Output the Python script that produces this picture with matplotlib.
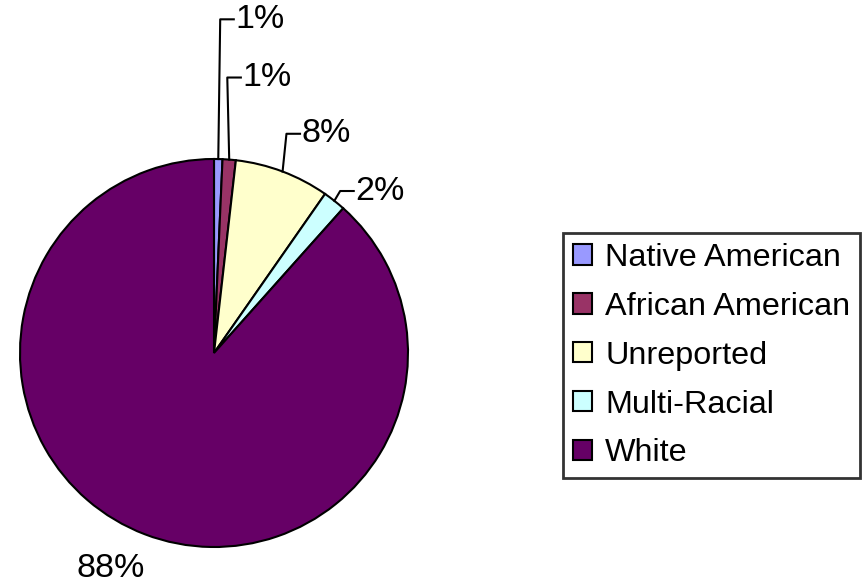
import matplotlib.pyplot as plt
import numpy as np

plt.rcParams['font.family'] = ['Liberation Sans', 'DejaVu Sans']

categories = ["Native American", "African American", "Unreported", "Multi-Racial", "White"]
shares = [0.7, 1.1, 7.9, 1.9, 88.4]
pct_labels = ["1%", "1%", "8%", "2%", "88%"]
colors = ["#9999FF", "#993366", "#FFFFCC", "#CCFFFF", "#660066"]

# where the small-slice labels sit (data units, pie radius = 1)
label_y = [1.72, 1.42, 1.13, 0.835]
elbow_dx = [0.01, -0.01, 0.02, 0.03]

fig = plt.figure(figsize=(8.66, 5.85), dpi=100)
ax = fig.add_axes([20 / 866, 38 / 585, 388 / 866, 388 / 585])

wedges, _ = ax.pie(shares, colors=colors, startangle=90, counterclock=False,
                   radius=1, wedgeprops=dict(edgecolor="black", linewidth=1.5))
ax.set_xlim(-1, 1)
ax.set_ylim(-1, 1)
ax.set_aspect("equal")
ax.axis("off")

for i, w in enumerate(wedges[:4]):
    mid = np.deg2rad((w.theta1 + w.theta2) / 2)
    ex, ey = np.cos(mid), np.sin(mid)
    bx = ex + elbow_dx[i]
    ly = label_y[i]
    ax.plot([ex, bx, bx + 0.07], [ey, ly, ly], color="black", lw=1.5, clip_on=False)
    ax.text(bx + 0.08, ly, pct_labels[i], fontsize=24.5, ha="left", va="center", clip_on=False)

# big slice label
ax.text(-0.53, -1.11, pct_labels[4], fontsize=24.5, ha="center", va="center", clip_on=False)

leg = ax.legend(wedges, categories, loc="upper left",
                bbox_to_anchor=(563 / 866, 1 - 233 / 585), bbox_transform=fig.transFigure,
                fontsize=23.3, frameon=True, fancybox=False, edgecolor="black",
                handlelength=0.6, handleheight=0.6, handletextpad=0.4,
                labelspacing=0.585, borderpad=0.3, borderaxespad=0)
leg.get_frame().set_linewidth(2)
for h in leg.legend_handles:
    h.set_linewidth(1.5)

fig.savefig("out.png", dpi=100)
